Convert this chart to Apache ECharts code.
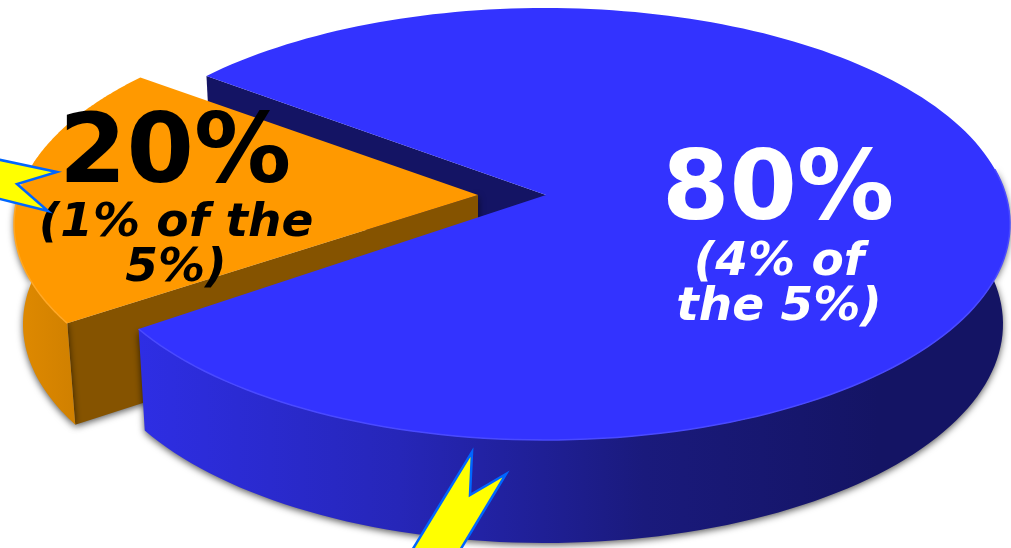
<!DOCTYPE html>
<html>
<head>
<meta charset="utf-8">
<style>html,body{margin:0;padding:0;background:#fff}#c{width:1011px;height:548px}</style>
<script src="https://cdn.jsdelivr.net/npm/echarts@6/dist/echarts.min.js"></script>
</head>
<body>
<div id="c"></div>
<script>
// Data
var categories = ['4% of the 5%', '1% of the 5%'];
var values = [80, 20];
var noteLines = [['(4% of', 'the 5%)'], ['(1% of the', '5%)']];

// Layout / style per slice
var START_ANGLE = -52.6;
var TILT = -0.134;
var layouts = [
  { top: {cx:545, cy:224, rx:465, ry:216}, bottom: {cx:545, cy:324, rx:458, ry:219}, apex:[546,195], inset:0, pad:1,
    topFill:'#3333ff', edge:'#4a4aff', wall:'#141464', z:[1,6,7],
    rim:[{offset:0,color:'#2e2ee4'},{offset:0.3,color:'#2626b8'},{offset:0.58,color:'#1a1a7c'},{offset:0.85,color:'#141464'},{offset:1,color:'#141464'}],
    textFill:'#ffffff', textX:778, bigY:145, noteY:[239,284] },
  { top: {cx:490, cy:224, rx:476, ry:216}, bottom: {cx:490, cy:324, rx:467, ry:219}, apex:[478,195], inset:0.6, pad:0.6,
    topFill:'#ff9900', edge:'#ffa826', wall:'#855300', z:[3,4,5],
    rim:[{offset:0,color:'#e08a00'},{offset:1,color:'#d08000'}],
    textFill:'#000000', textX:175, bigY:108, noteY:[200,245] }
];

// Map an angle (clockwise from the back of the disc) to the ellipse, with perspective
function project(deg, e) {
  var t = deg * Math.PI / 180, u = Math.sin(t), v = -Math.cos(t);
  var d = 1 + TILT * v;
  return [e.cx + e.rx * u * Math.sqrt(1 - TILT * TILT) / d, e.cy + e.ry * (v + TILT) / d];
}
function arc(a0, a1, e) {
  var pts = [], n = 180;
  for (var i = 0; i <= n; i++) pts.push(project(a0 + (a1 - a0) * i / n, e));
  return pts;
}
var total = values.reduce(function (s, v) { return s + v; }, 0);
var shadow = { shadowBlur: 7, shadowColor: 'rgba(0,0,0,0.65)', shadowOffsetY: 2 };

function renderSlice(params, api) {
  var idx = params.dataIndex, L = layouts[idx];
  var before = 0;
  for (var i = 0; i < idx; i++) before += values[i];
  var a0 = START_ANGLE + before / total * 360 + L.inset;
  var a1 = a0 + api.value(0) / total * 360 - L.inset - L.pad;

  var topArc = arc(a0, a1, L.top), botArc = arc(a0, a1, L.bottom);
  var apexB = [L.apex[0], L.apex[1] + 100];
  // Front-facing part of the outer side
  var frontTop = [], frontBot = [];
  for (var j = 0; j < topArc.length; j++) {
    var a = a0 + (a1 - a0) * j / (topArc.length - 1);
    if (Math.cos(a * Math.PI / 180) <= 0.14) { frontTop.push(topArc[j]); frontBot.push(botArc[j]); }
  }
  var side = frontTop.concat(frontBot.slice().reverse());
  var startT = topArc[0], startB = botArc[0];

  var children = [];
  children.push({ type:'polygon', z2:L.z[0], shape:{points:[L.apex, startT, startB, apexB]},
    style: idx === 0 ? {fill:L.wall} : Object.assign({fill:L.wall}, shadow) });
  children.push({ type:'polygon', z2:L.z[1], shape:{points:side},
    style:Object.assign({fill:new echarts.graphic.LinearGradient(0,0,1,0,L.rim)}, shadow) });
  children.push({ type:'polygon', z2:L.z[2], shape:{points:[L.apex].concat(topArc)}, style:{fill:L.topFill} });
  children.push({ type:'polyline', z2:L.z[2], shape:{points:frontTop}, style:{fill:null, stroke:L.edge, lineWidth:1.5} });
  // texts
  children.push({ type:'text', z2:20, style:{ text: api.value(0) + '%', x:L.textX, y:L.bigY, fill:L.textFill,
    font:'bold 97px "DejaVu Sans"', align:'center', verticalAlign:'top' } });
  noteLines[idx].forEach(function (line, k) {
    children.push({ type:'text', z2:20, style:{ text: line, x:L.textX + 1, y:L.noteY[k], fill:L.textFill,
      font:'italic bold 47px "DejaVu Sans"', align:'center', verticalAlign:'top' } });
  });
  return { type:'group', children:children };
}

var chart = echarts.init(document.getElementById('c'), null, { renderer:'canvas' });
chart.setOption({
  animation:false,
  backgroundColor:'#ffffff',
  series:[{
    type:'custom',
    coordinateSystem:'none',
    silent:true,
    renderItem:renderSlice,
    data:values.map(function (v, i) { return { name:categories[i], value:[v] }; })
  }],
  graphic:[
    { type:'polygon', z:50, shape:{points:[[-4,159],[57,172],[17,184],[48,211],[-4,198]]},
      style:{fill:'#ffff00', stroke:'#0066ff', lineWidth:2.5} },
    { type:'polygon', z:50, shape:{points:[[472,452],[470,495],[506,474],[459,552],[411,552]]},
      style:{fill:'#ffff00', stroke:'#0066ff', lineWidth:2.5} }
  ]
});
</script>
</body>
</html>
